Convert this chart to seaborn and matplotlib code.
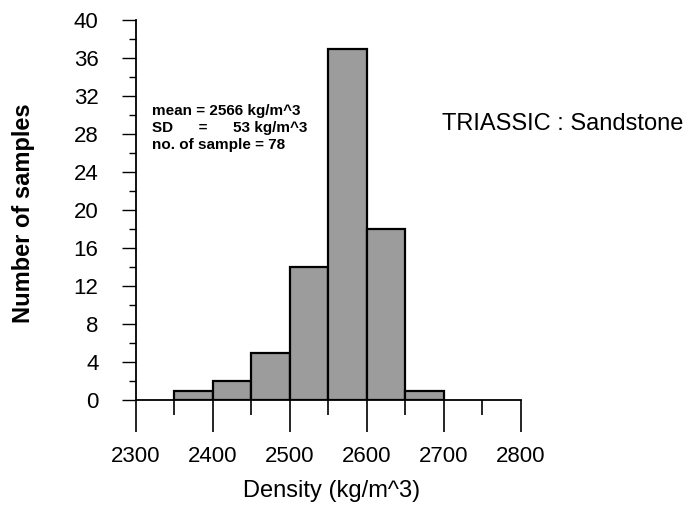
import numpy as np
import pandas as pd
import matplotlib
matplotlib.use("Agg")
import matplotlib.pyplot as plt
from matplotlib.ticker import MultipleLocator
import seaborn as sns

# histogram (bin width 50 kg/m^3)
bin_edges = [2350, 2400, 2450, 2500, 2550, 2600, 2650, 2700]
counts = [1, 2, 5, 14, 37, 18, 1]
stats_lines = ["mean = 2566 kg/m^3",
               "SD      =      53 kg/m^3",
               "no. of sample = 78"]
title_text = "TRIASSIC : Sandstone"

mids = [(a + b) / 2 for a, b in zip(bin_edges[:-1], bin_edges[1:])]
df = pd.DataFrame({"density": mids, "n": counts})

sns.set_style("ticks")
plt.rcParams['font.family'] = ['Liberation Sans', 'DejaVu Sans']
plt.rcParams['text.color'] = 'black'
plt.rcParams['axes.labelcolor'] = 'black'
plt.rcParams['xtick.color'] = 'black'
plt.rcParams['ytick.color'] = 'black'

fig = plt.figure(figsize=(6.94, 5.18), dpi=100)
ax = fig.add_axes([136 / 694, 118 / 518, 385 / 694, 380 / 518])

sns.histplot(data=df, x="density", weights="n", bins=bin_edges, stat="count",
             color="#9c9c9c", alpha=1, edgecolor="black", linewidth=1.6, ax=ax)

ax.set_xlim(2300, 2800)
ax.set_ylim(0, 40)
ax.xaxis.set_major_locator(MultipleLocator(100))
ax.xaxis.set_minor_locator(MultipleLocator(50))
ax.yaxis.set_major_locator(MultipleLocator(4))
ax.yaxis.set_minor_locator(MultipleLocator(2))
ax.tick_params(axis="x", which="major", length=23, width=1.2, pad=10, labelsize=16)
ax.tick_params(axis="x", which="minor", length=11, width=1.2)
ax.tick_params(axis="y", which="major", length=10, width=1.0, pad=17, labelsize=16)
ax.tick_params(axis="y", which="minor", length=5, width=1.0)
for s in ["top", "right"]:
    ax.spines[s].set_visible(False)
for s in ["left", "bottom"]:
    ax.spines[s].set_linewidth(1.3)
    ax.spines[s].set_color("black")

ax.set_xlabel("Density (kg/m^3)", fontsize=17)
ax.xaxis.set_label_coords((332 - 136) / 385, -0.21)
ax.set_ylabel("Number of samples", fontsize=17, fontweight="bold", va="center")
ax.yaxis.set_label_coords((24 - 136) / 385, 0.492)

# stats box text, one line per baseline
for i, line in enumerate(stats_lines):
    fig.text(152 / 694, 1 - (115 + 17 * i) / 518, line, fontsize=11,
             fontweight="bold", va="baseline", ha="left")

fig.text(442 / 694, 1 - 130 / 518, title_text, fontsize=17, va="baseline", ha="left")

fig.savefig("out.png", dpi=100)
